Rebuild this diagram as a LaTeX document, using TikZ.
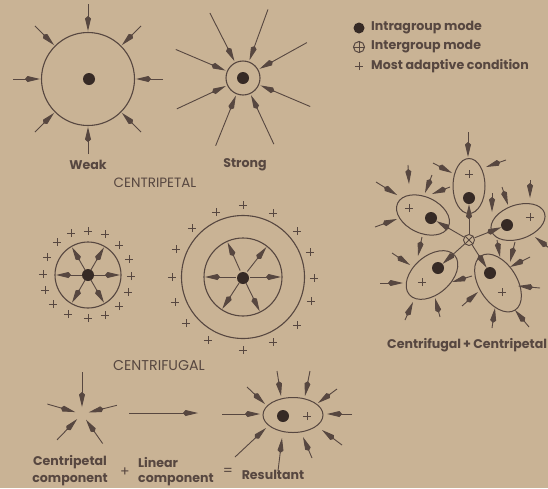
\documentclass[tikz,border=0pt]{standalone}
\usepackage{fontspec}
\setmainfont{Poppins}
\usetikzlibrary{arrows.meta,calc,shapes.geometric}
\definecolor{bg}{HTML}{C9B395}
\definecolor{ink}{HTML}{574740}
\definecolor{dotc}{HTML}{362A25}
\tikzset{
  plusmark/.pic={\draw[ink,line width=1pt] (-4.2pt,0)--(4.2pt,0) (0,-4.2pt)--(0,4.2pt);},
}
\begin{document}
\begin{tikzpicture}[x=1pt,y=-1pt,
  arr/.style={draw=ink, line width=0.9pt, -{Kite[length=15pt,width=6pt,inset=2.5pt]}},
  ring/.style={draw=ink, line width=1.1pt},
  dotn/.style={circle, fill=dotc, inner sep=0pt, minimum size=12pt},
  ellip/.style={ellipse, draw=ink, line width=1pt, inner sep=0pt},
  lbl/.style={text=ink, inner sep=0pt, font=\fontsize{12.6}{14}\selectfont\bfseries},
  capl/.style={text=ink, inner sep=0pt, font=\fontsize{13.5}{15}\selectfont},
  ]
\useasboundingbox (0,0) rectangle (548,488);
\fill[bg] (0,0) rectangle (548,488);
\clip (0,0) rectangle (548,488);

% ---------- Weak centripetal ----------
\node[circle, ring, minimum size=93pt, inner sep=0pt] (wc) at (88,79) {};
\node[dotn] (wd) at (89,79) {};
\foreach \a in {0,45,...,315}
  \draw[arr] ($(wc)+(\a:75pt)$) -- ($(wc)+(\a:48pt)$);
\node[lbl] (weak) at (88,165) {Weak};

% ---------- Strong centripetal ----------
\node[circle, ring, minimum size=34pt, inner sep=0pt] (sc) at (243,78) {};
\node[dotn] (sd) at (243,78) {};
\foreach \a in {117,70,29,-23,-65,-112,205,157}
  \draw[arr] ($(sc)+(\a:73pt)$) -- ($(sc)+(\a:19pt)$);
\node[lbl] (strong) at (245,165) {Strong};
\node[capl] (cpt) at (155,183) {CENTRIPETAL};

% ---------- Legend ----------
\node[dotn, minimum size=11pt] (l1) at (359,28) {};
\node[lbl, anchor=west] (t1) at (371,28) {Intragroup mode};
\node[circle, draw=ink, line width=1pt, minimum size=11pt, inner sep=0pt] (l2) at (359,47) {};
\draw[ink, line width=1pt] (l2.north) -- (l2.south) (l2.west) -- (l2.east);
\node[lbl, anchor=west] (t2) at (371,47) {Intergroup mode};
\pic at (359,66) {plusmark};
\node[lbl, anchor=west] (t3) at (371,66) {Most adaptive condition};

% ---------- Small centrifugal ----------
\node[circle, ring, minimum size=66pt, inner sep=0pt] (fc) at (88,275) {};
\node[dotn] (fd) at (88,275) {};
\foreach \a in {0,60,...,300}
  \draw[arr] ($(fc)+(\a:6pt)$) -- ($(fc)+(\a:32pt)$);
\foreach \p in {(71,233),(88,231),(105,234),(119,245),(129,259),(131,276),(128,292),(119,306),(105,315),(88,318),(68,314),(53,304),(45,290),(43,274),(47,257),(57,242)}
  \pic at \p {plusmark};

% ---------- Large centrifugal ----------
\node[circle, ring, minimum size=123pt, inner sep=0pt] (gc) at (243,277) {};
\node[circle, ring, minimum size=78pt, inner sep=0pt] (gi) at (243,277) {};
\node[dotn] (gd) at (243,278) {};
\foreach \a in {0,52,114,180,237,-64}
  \draw[arr] ($(gi)+(\a:7pt)$) -- ($(gi)+(\a:38pt)$);
\foreach \p in {(243,205),(216,212),(192,228),(176,249),(172,277),(175,302),(186,323),(208,340),(243,350),(273,342),(297,325),(311,301),(314,278),(310,252),(297,231),(273,213)}
  \pic at \p {plusmark};
\node[capl, font=\fontsize{14.2}{15}\selectfont] (cfg) at (159,366) {CENTRIFUGAL};

% ---------- Cluster: centrifugal + centripetal ----------
\node[circle, draw=ink, line width=0.9pt, minimum size=11pt, inner sep=0pt] (X) at (469,240) {};
\draw[ink, line width=0.9pt] (X.north east) -- (X.south west) (X.north west) -- (X.south east);
\node[ellip, minimum width=55pt, minimum height=32pt, rotate=90] (e1) at (469,186) {};
\node[ellip, minimum width=56pt, minimum height=36pt, rotate=155] (e2) at (423,215) {};
\node[ellip, minimum width=56pt, minimum height=34pt, rotate=19] (e3) at (518,222) {};
\node[ellip, minimum width=64pt, minimum height=38pt, rotate=-58] (e4) at (498,283) {};
\node[ellip, minimum width=60pt, minimum height=38pt, rotate=41] (e5) at (432,275) {};
\node[dotn] (d1) at (469,198) {};
\node[dotn] (d2) at (431,218) {};
\node[dotn] (d3) at (507,225) {};
\node[dotn] (d4) at (490,273) {};
\node[dotn] (d5) at (438,268) {};
\pic at (469,174) {plusmark};
\pic at (409,208) {plusmark};
\pic at (530,217) {plusmark};
\pic at (502,292) {plusmark};
\pic at (422,282) {plusmark};
\foreach \d in {d1,d2,d3,d4,d5}
  \draw[arr] (X) -- (\d);
\foreach \s/\e in {
  {(468,132)}/{(468,157)}, {(433,163)}/{(452,173)}, {(506,160)}/{(486,167)},
  {(408,165)}/{(409,184)}, {(432,175)}/{(425,193)}, {(450,187)}/{(432,194)},
  {(376,182)}/{(397,195)}, {(375,227)}/{(397,219)}, {(422,237)}/{(418,256)},
  {(492,193)}/{(492,212)}, {(502,187)}/{(508,205)}, {(530,180)}/{(530,198)},
  {(549,248)}/{(535,237)}, {(497,240)}/{(500,257)}, {(515,242)}/{(510,262)},
  {(530,257)}/{(510,267)}, {(540,288)}/{(518,286)}, {(529,327)}/{(515,310)},
  {(492,328)}/{(495,308)}, {(462,306)}/{(478,292)}, {(472,276)}/{(452,282)},
  {(392,253)}/{(410,265)}, {(380,283)}/{(403,283)}, {(405,320)}/{(413,302)},
  {(440,317)}/{(435,298)}}
  \draw[arr] \s -- \e;
\node[lbl, anchor=west] (cc) at (387,345) {Centrifugal\,+\,Centripetal};

% ---------- Bottom: components ----------
\coordinate (cp) at (82,414);
\foreach \a/\r in {90/42,164/36,14/36,226/36,-55/36}
  \draw[arr] ($(cp)+(\a:\r pt)$) -- ($(cp)+(\a:7pt)$);
\coordinate (la) at (129,413);
\coordinate (lb) at (198,413);
\draw[arr] (la) -- (lb);
\node[ellip, minimum width=60pt, minimum height=35pt] (R) at (293,415) {};
\node[dotn] (rd) at (283,416) {};
\pic at (307,416) {plusmark};
\foreach \s/\e in {
  {(222,414)}/{(260,414)}, {(352,414)}/{(327,414)}, {(247,387)}/{(265,404)},
  {(277,371)}/{(281,396)}, {(310,371)}/{(305,396)}, {(337,389)}/{(318,403)},
  {(342,445)}/{(322,430)}, {(312,458)}/{(303,437)}, {(278,471)}/{(282,438)},
  {(235,457)}/{(266,428)}}
  \draw[arr] \s -- \e;
\node[lbl] (cpa) at (70,462) {Centripetal};
\node[lbl] (cpb) at (70,480) {component};
\node[lbl, font=\fontsize{14}{14}\selectfont] (plus2) at (125,472) {+};
\node[lbl, anchor=west] (lna) at (138,462) {Linear};
\node[lbl, anchor=west] (lnb) at (138,480) {component};
\node[lbl, font=\fontsize{14}{14}\selectfont] (eq) at (228,472) {=};
\node[lbl] (res) at (273,475) {Resultant};
\end{tikzpicture}
\end{document}
